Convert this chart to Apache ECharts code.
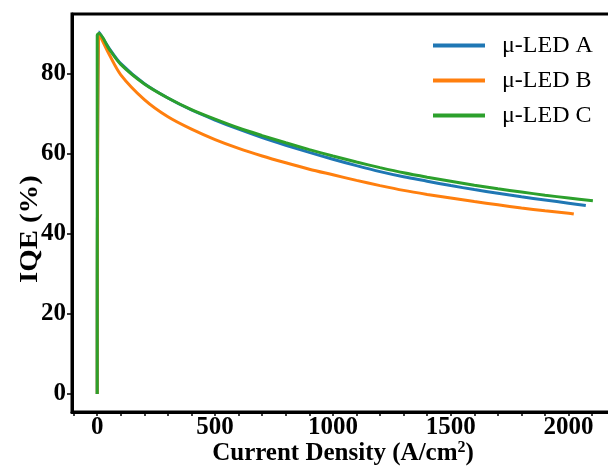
<!DOCTYPE html>
<html>
<head>
<meta charset="utf-8">
<script src="https://cdn.jsdelivr.net/npm/echarts@6/dist/echarts.min.js"></script>
<style>html,body{margin:0;padding:0;background:#fff;overflow:hidden;}#c{width:608px;height:467px;}</style>
</head>
<body>
<div id="c"></div>
<script>
const seriesNames = ['\u03bc-LED A', '\u03bc-LED B', '\u03bc-LED C'];
const jA = [0, 7, 50, 100, 200, 300, 400, 500, 600, 700, 800, 900, 1000, 1100, 1200, 1300, 1400, 1500, 1600, 1700, 1800, 1900, 2000, 2073];
const iqeA = [0, 90.5, 86.5, 82.6, 77.6, 74.0, 71.0, 68.5, 66.2, 64.1, 62.2, 60.4, 58.7, 57.1, 55.6, 54.3, 53.2, 52.1, 51.1, 50.2, 49.3, 48.5, 47.7, 47.1];
const jB = [0, 7, 50, 100, 200, 300, 400, 500, 600, 700, 800, 900, 1000, 1100, 1200, 1300, 1400, 1500, 1600, 1700, 1800, 1900, 2000, 2022];
const iqeB = [0, 90.2, 85.0, 79.8, 73.6, 69.3, 66.2, 63.6, 61.4, 59.5, 57.8, 56.2, 54.8, 53.4, 52.1, 50.9, 49.9, 49.0, 48.1, 47.3, 46.5, 45.8, 45.2, 45.0];
const jC = [0, 0, 7, 50, 100, 200, 300, 400, 500, 600, 700, 800, 900, 1000, 1100, 1200, 1300, 1400, 1500, 1600, 1700, 1800, 1900, 2000, 2103];
const iqeC = [0, 89.7, 90.1, 86.3, 82.4, 77.5, 74.0, 71.1, 68.7, 66.5, 64.6, 62.8, 61.1, 59.5, 58.0, 56.6, 55.3, 54.2, 53.2, 52.2, 51.3, 50.5, 49.7, 49.0, 48.3];
const xTickValues = [-100, 0, 100, 200, 300, 400, 500, 600, 700, 800, 900, 1000, 1100, 1200, 1300, 1400, 1500, 1600, 1700, 1800, 1900, 2000, 2100, 2200];
const xLabelValues = [0, 500, 1000, 1500, 2000];
const yTickValues = [0, 20, 40, 60, 80];
const colors = ['#1f77b4', '#ff7f0e', '#2ca02c'];

const zip = (xs, ys) => xs.map((x, i) => [x, ys[i]]);
const font = 'Liberation Serif';

const chart = echarts.init(document.getElementById('c'), null, {renderer: 'canvas'});
chart.setOption({
  animation: false,
  backgroundColor: '#fff',
  grid: {left: 72, top: 14, width: 560, height: 398, show: true, borderColor: '#000', borderWidth: 3, containLabel: false, outerBoundsMode: 'none'},
  legend: {
    orient: 'vertical', left: 428, top: 28,
    itemWidth: 52, itemHeight: 4, itemGap: 10, icon: 'rect',
    textStyle: {fontFamily: font, fontSize: 24, color: '#000', padding: [0, 0, 0, 12], lineHeight: 25},
    data: seriesNames
  },
  xAxis: {
    type: 'value', min: -107, max: 2269,
    splitLine: {show: false},
    axisLine: {show: true, onZero: false, lineStyle: {color: '#000', width: 3}},
    axisTick: {show: true, inside: false, length: 4, lineStyle: {color: '#000', width: 1.5}, customValues: xTickValues},
    axisLabel: {customValues: xLabelValues, formatter: v => String(v), fontFamily: font, fontWeight: 'bold', fontSize: 25, color: '#000', margin: 3},
    name: 'Current Density (A/cm{sup|2})',
    nameLocation: 'middle', nameGap: 28, nameMoveOverlap: false,
    nameTextStyle: {fontFamily: font, fontWeight: 'bold', fontSize: 25, color: '#000', padding: [0, 18, 0, 0],
      rich: {sup: {fontFamily: font, fontWeight: 'bold', fontSize: 16, color: '#000', verticalAlign: 'top', padding: [0, 0, 12, 0]}}}
  },
  yAxis: {
    type: 'value', min: -4.5, max: 95,
    splitLine: {show: false},
    axisLine: {show: true, onZero: false, lineStyle: {color: '#000', width: 3}},
    axisTick: {show: true, inside: false, length: 5, lineStyle: {color: '#000', width: 1.5}, customValues: yTickValues},
    axisLabel: {customValues: yTickValues, formatter: v => String(v), fontFamily: font, fontWeight: 'bold', fontSize: 25, color: '#000', margin: 6}
  },
  graphic: [{
    type: 'text', x: 31, y: 229, rotation: Math.PI / 2, scaleX: 1.15,
    style: {text: 'IQE (%)', fontFamily: font, fontWeight: 'bold', fontSize: 25, fill: '#000', align: 'center', verticalAlign: 'middle'}
  }],
  series: [
    {name: seriesNames[0], type: 'line', data: zip(jA, iqeA), showSymbol: false, symbol: 'none', smooth: 0.3, lineStyle: {width: 3, color: colors[0]}, itemStyle: {color: colors[0]}, z: 2},
    {name: seriesNames[1], type: 'line', data: zip(jB, iqeB), showSymbol: false, symbol: 'none', smooth: 0.3, lineStyle: {width: 3, color: colors[1]}, itemStyle: {color: colors[1]}, z: 3},
    {name: seriesNames[2], type: 'line', data: zip(jC, iqeC), showSymbol: false, symbol: 'none', smooth: 0.3, lineStyle: {width: 3, color: colors[2]}, itemStyle: {color: colors[2]}, z: 4}
  ]
});
</script>
</body>
</html>
